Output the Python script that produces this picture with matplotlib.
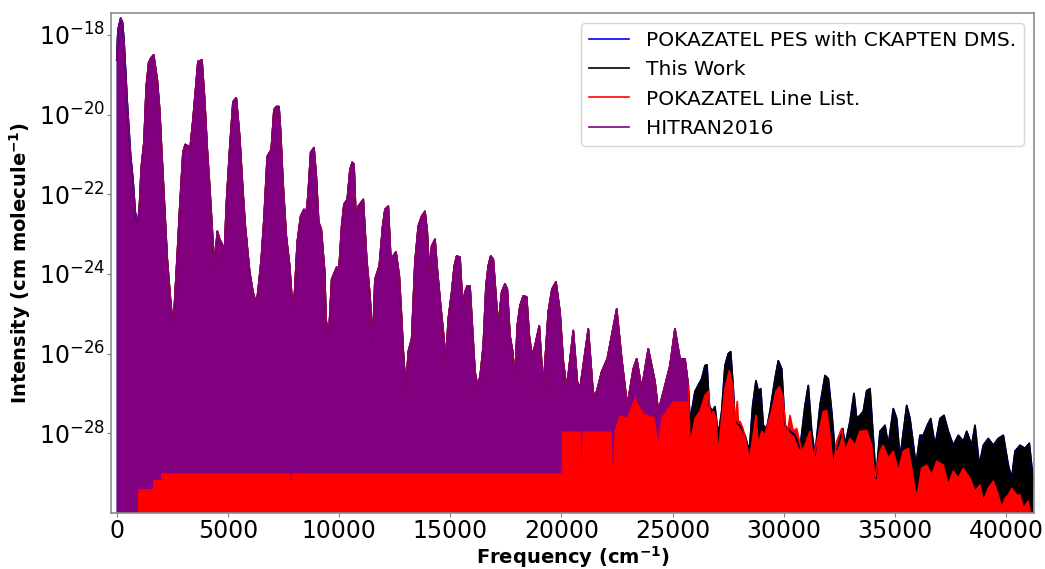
import numpy as np
import matplotlib
matplotlib.use("Agg")
import matplotlib.pyplot as plt

# band envelope of the HITRAN2016 line list (frequency in cm-1, log10 intensity)
hitran_freq = [0, 54, 175, 256, 324, 472, 625, 729, 832, 954, 1030, 1102, 1223, 1327, 1435,
               1538, 1660, 1822, 1930, 2002, 2155, 2271, 2424, 2528, 2604, 2753, 2829, 2978,
               3081, 3234, 3293, 3428, 3531, 3652, 3832, 3954, 4071, 4179, 4327, 4404, 4521,
               4629, 4853, 4925, 5078, 5227, 5375, 5528, 5677, 5780, 5978, 6126, 6275, 6351,
               6500, 6621, 6769, 6949, 7071, 7174, 7296, 7372, 7476, 7624, 7777, 7881, 7926,
               8002, 8119, 8272, 8420, 8510, 8600, 8722, 8870, 8974, 9082, 9199, 9352, 9410,
               9500, 9559, 9667, 9892, 9995, 10116, 10220, 10368, 10490, 10593, 10670, 10760,
               10863, 11088, 11241, 11390, 11511, 11614, 11808, 11960, 12064, 12212, 12320,
               12424, 12559, 12707, 12815, 12887, 13008, 13112, 13265, 13413, 13562, 13715,
               13863, 13966, 14056, 14164, 14313, 14416, 14569, 14686, 14808, 14911, 15064,
               15181, 15289, 15437, 15559, 15662, 15766, 15887, 16008, 16112, 16247, 16368,
               16485, 16607, 16710, 16818, 16935, 17056, 17160, 17313, 17461, 17565, 17686,
               17808, 17911, 18015, 18136, 18284, 18437, 18554, 18676, 18811, 19004, 19184,
               19409, 19575, 19755, 19935, 20084, 20237, 20534, 20714, 20835, 21209, 21434,
               21587, 21812, 22063, 22486, 22711, 22963, 23233, 23386, 23611, 23907, 24208,
               24357, 24658, 24883, 25107, 25332, 25557, 25706]
hitran_log10 = [-18.63, -17.88, -17.58, -17.68, -18.13, -19.70, -21.05, -21.63, -22.45, -22.75,
                -22.20, -21.33, -20.70, -19.30, -18.70, -18.58, -18.50, -19.13, -19.88, -20.70,
                -22.38, -23.63, -24.70, -25.30, -24.70, -23.20, -22.38, -20.95, -20.75, -20.80,
                -20.88, -20.13, -19.45, -18.67, -18.63, -19.63, -20.88, -21.80, -23.20, -23.80,
                -22.93, -23.13, -23.38, -22.30, -20.88, -19.68, -19.58, -20.55, -21.95, -22.80,
                -23.95, -24.45, -24.75, -24.45, -23.63, -22.63, -21.05, -20.88, -19.88, -19.80,
                -19.80, -20.45, -21.70, -23.05, -23.80, -24.63, -24.88, -24.45, -23.20, -22.55,
                -22.38, -22.53, -22.05, -20.95, -20.83, -21.55, -22.70, -22.88, -23.95, -25.13,
                -25.50, -25.30, -24.13, -23.83, -23.88, -22.80, -22.25, -22.13, -21.38, -21.20,
                -21.25, -22.63, -22.30, -22.13, -23.63, -24.55, -25.75, -24.13, -23.80, -22.80,
                -22.38, -22.30, -23.55, -23.55, -23.45, -24.05, -25.13, -25.95, -26.93, -25.95,
                -25.63, -23.70, -22.80, -22.55, -22.43, -22.95, -23.95, -23.30, -23.13, -23.88,
                -24.80, -25.45, -26.18, -25.13, -24.45, -23.80, -23.55, -23.58, -24.80, -24.45,
                -24.30, -24.30, -25.45, -26.45, -26.88, -26.45, -25.80, -24.30, -23.80, -23.55,
                -23.63, -24.55, -25.30, -24.45, -24.25, -24.38, -25.55, -25.95, -26.63, -25.30,
                -24.80, -24.55, -24.58, -25.55, -26.05, -25.80, -25.30, -26.88, -24.95, -24.38,
                -24.20, -24.95, -26.20, -26.88, -25.42, -26.70, -26.88, -25.38, -27.05, -26.95,
                -26.45, -26.13, -24.88, -26.13, -27.30, -26.38, -26.13, -26.88, -25.88, -26.70,
                -27.45, -26.80, -26.30, -25.38, -26.13, -26.13, -26.80]

# weakest HITRAN lines (lower edge of the purple band)
hitran_floor_freq = [0, 950, 950, 1630, 1630, 2000, 2000, 7800, 7840, 7880, 20000, 20000,
                     20870, 20910, 20950, 22250, 22320, 22390, 22600, 22963, 23300, 23700,
                     24200, 24357, 24500, 25000, 25706]
hitran_floor_log10 = [-31.0, -31.0, -29.40, -29.40, -29.17, -29.17, -29.00, -29.00, -29.20,
                      -29.00, -29.00, -27.95, -27.95, -28.80, -27.95, -27.95, -28.95, -27.95,
                      -27.55, -27.60, -27.10, -27.50, -27.60, -28.20, -27.60, -27.20, -27.20]

# This Work, above the end of HITRAN
thiswork_freq = [25783, 26007, 26309, 26457, 26547, 26651, 26772, 26907, 27056, 27208, 27357,
                 27505, 27613, 27730, 27807, 28032, 28256, 28450, 28603, 28751, 28855, 28963,
                 29080, 29233, 29381, 29606, 29754, 29907, 30056, 30281, 30506, 30731, 30956,
                 31104, 31257, 31405, 31630, 31855, 32004, 32157, 32305, 32453, 32651, 32755,
                 32980, 33159, 33281, 33429, 33578, 33731, 33880, 34001, 34149, 34329, 34554,
                 34703, 34927, 35080, 35229, 35530, 35679, 35949, 36128, 36277, 36457, 36610,
                 36804, 37028, 37208, 37402, 37626, 37851, 38076, 38229, 38454, 38603, 38796,
                 38976, 39201, 39425, 39650, 39875, 40100, 40253, 40402, 40626, 40851, 41045,
                 41225]
thiswork_log10 = [-27.70, -26.95, -26.63, -26.30, -26.28, -27.30, -27.45, -27.33, -28.05,
                  -27.45, -26.30, -26.00, -25.95, -26.88, -27.70, -27.80, -28.05, -28.45,
                  -27.30, -26.68, -26.95, -26.88, -27.80, -27.88, -27.45, -26.63, -26.18,
                  -26.38, -27.80, -27.95, -28.05, -28.38, -27.30, -26.80, -27.95, -28.55,
                  -27.30, -26.55, -26.63, -27.45, -28.45, -28.30, -27.88, -28.30, -27.70,
                  -27.00, -27.63, -27.55, -27.45, -26.93, -26.88, -27.88, -29.13, -27.95,
                  -27.80, -28.30, -27.38, -27.63, -28.63, -27.30, -27.63, -28.80, -28.05,
                  -28.05, -27.80, -27.63, -28.30, -27.63, -27.55, -27.95, -28.30, -28.05,
                  -28.20, -27.95, -28.30, -27.80, -28.80, -28.30, -28.13, -28.30, -28.13,
                  -28.05, -28.80, -29.13, -28.45, -28.30, -28.38, -28.25, -29.20]

# POKAZATEL line list, above the end of HITRAN
pokazatel_freq = [25783, 26007, 26232, 26457, 26606, 26714, 26831, 26952, 27056, 27208, 27357,
                  27550, 27703, 27807, 27910, 27963, 28032, 28166, 28333, 28450, 28603, 28751,
                  28855, 29008, 29156, 29260, 29457, 29651, 29799, 29952, 30132, 30281, 30429,
                  30582, 30807, 30956, 31180, 31329, 31553, 31778, 31931, 32080, 32228, 32381,
                  32606, 32755, 32980, 33204, 33429, 33731, 33955, 34104, 34329, 34477, 34703,
                  34927, 35152, 35377, 35602, 35827, 35980, 36204, 36429, 36654, 36879, 37176,
                  37402, 37626, 37851, 38076, 38377, 38603, 38827, 38976, 39201, 39425, 39650,
                  39803, 39951, 40100, 40253, 40478, 40626, 40774, 41000, 41076, 41257]
pokazatel_log10 = [-28.30, -27.63, -27.45, -27.05, -26.95, -27.63, -27.45, -27.63, -28.55,
                   -27.63, -26.88, -26.43, -26.80, -27.80, -27.20, -27.75, -27.70, -27.88,
                   -28.30, -28.70, -28.13, -27.55, -28.30, -27.95, -28.05, -27.80, -27.45,
                   -26.95, -26.83, -27.05, -28.13, -27.55, -27.95, -27.88, -28.45, -28.30,
                   -27.95, -28.63, -28.05, -27.45, -27.43, -28.05, -28.88, -28.20, -27.88,
                   -28.45, -28.13, -28.30, -27.95, -27.93, -28.30, -29.13, -28.45, -28.30,
                   -28.63, -28.45, -28.95, -28.45, -28.38, -29.13, -29.63, -28.88, -28.80,
                   -29.05, -28.70, -28.80, -29.30, -28.95, -29.13, -28.88, -29.13, -29.45,
                   -29.30, -29.70, -29.38, -29.20, -29.55, -29.88, -29.63, -29.55, -29.38,
                   -29.55, -29.55, -29.88, -29.70, -29.95, -30.20]
pokazatel_start = 950

xticks = [0, 5000, 10000, 15000, 20000, 25000, 30000, 35000, 40000]
ytick_exps = [-28, -26, -24, -22, -20, -18]

floor = 1e-31

hf = np.array(hitran_freq, float)
hi = 10.0 ** np.array(hitran_log10)
lf = np.array(hitran_floor_freq, float)
li = 10.0 ** np.array(hitran_floor_log10)
tf = np.array(thiswork_freq, float)
ti = 10.0 ** np.array(thiswork_log10)
pf = np.array(pokazatel_freq, float)
pi = 10.0 ** np.array(pokazatel_log10)

# below 25700 cm-1 the calculated lists sit on top of HITRAN
work_f = np.concatenate([hf, tf])
work_i = np.concatenate([hi, ti])
m = hf >= pokazatel_start
pok_f = np.concatenate([[pokazatel_start], hf[m], pf])
pok_i = np.concatenate([[hi[m][0]], hi[m], pi])

fig = plt.figure(figsize=(10.45, 5.69), dpi=100)
ax = fig.add_axes([0.1062, 0.0984, 0.8833, 0.8788])
ax.set_yscale("log")


def draw(f, i, color, label):
    ax.fill(np.concatenate([[f[0]], f, [f[-1]]]),
            np.concatenate([[floor], i, [floor]]), color=color, lw=0)
    ax.plot(f, i, color=color, lw=1.2, label=label)


draw(work_f, work_i, "blue", "POKAZATEL PES with CKAPTEN DMS.")
draw(work_f, work_i, "black", "This Work")
draw(pok_f, pok_i, "red", "POKAZATEL Line List.")

ax.fill(np.concatenate([hf, lf[::-1]]), np.concatenate([hi, li[::-1]]),
        color="purple", lw=0)
ax.plot(hf, hi, color="purple", lw=1.2, label="HITRAN2016")

ax.set_xlim(-260, 41257)
ax.set_ylim(1e-30, 10 ** -17.45)
ax.set_xticks(xticks)
ax.set_yticks([10.0 ** e for e in ytick_exps])
ax.minorticks_off()
ax.tick_params(labelsize=17, color="0.5", length=3, pad=1.5)
for s in ax.spines.values():
    s.set_color("0.55")
    s.set_linewidth(1.2)

ax.set_xlabel(r"Frequency (cm$^{\mathbf{-1}}$)", fontsize=14, fontweight="bold")
ax.xaxis.set_label_coords(0.5, -0.062)
ax.set_ylabel(r"Intensity (cm molecule$^{\mathbf{-1}}$)", fontsize=14, fontweight="bold",
              labelpad=4)
ax.legend(loc="upper right", fontsize=14.6)

fig.savefig("out.png", dpi=100)
